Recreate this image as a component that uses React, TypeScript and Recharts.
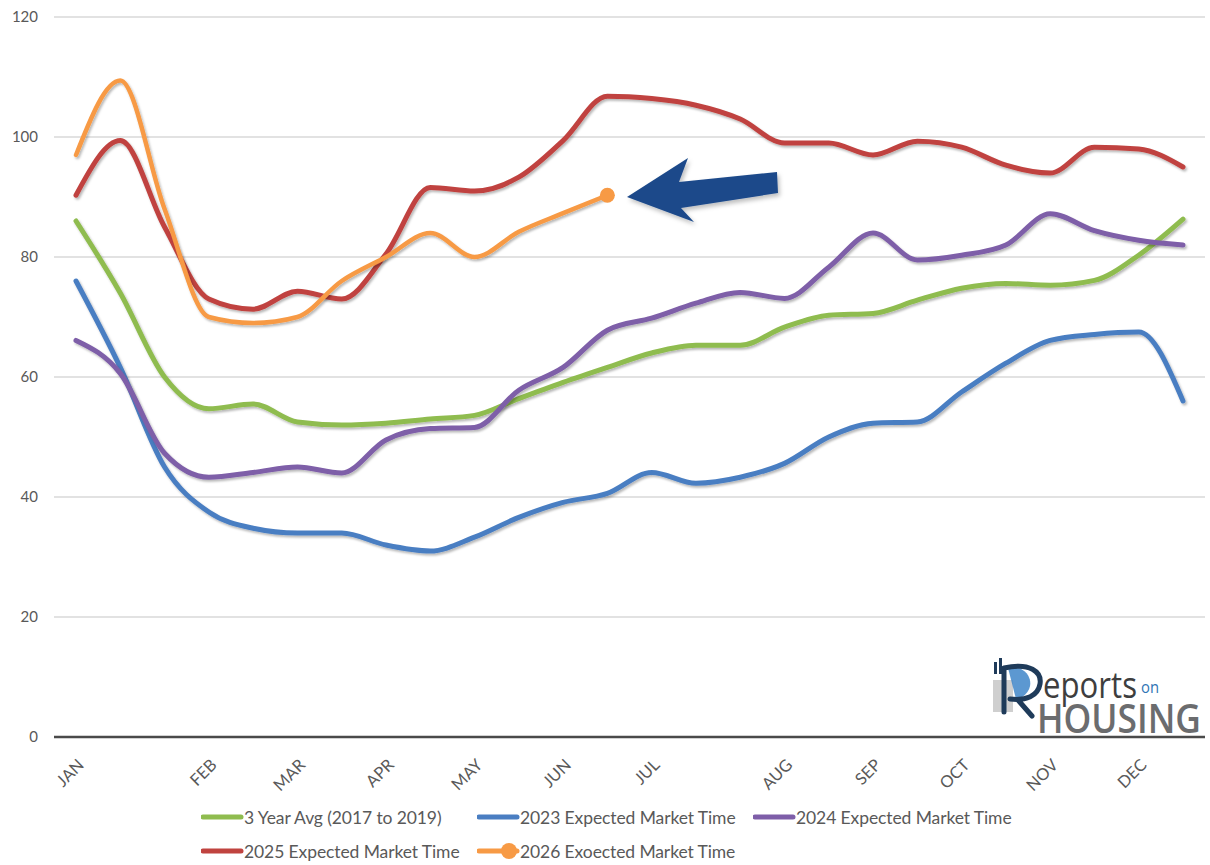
import { LineChart, Line, XAxis, YAxis, CartesianGrid } from 'recharts';

// 26 bi-weekly periods, month label on the period where each month starts
const tickLabels = ['JAN', '', '', 'FEB', '', 'MAR', '', 'APR', '', 'MAY', '', 'JUN', '', 'JUL', '', '', 'AUG', '', 'SEP', '', 'OCT', '', 'NOV', '', 'DEC', ''];
const yTicks = [0, 20, 40, 60, 80, 100, 120];

const avg3yr = [86, 74, 60, 54.7, 55.5, 52.5, 52, 52.3, 53, 53.6, 56.4, 59.1, 61.6, 64, 65.3, 65.3, 68.3, 70.3, 70.6, 72.8, 74.8, 75.6, 75.3, 76.1, 80.3, 86.3];
const market2023 = [76, 61.6, 45, 37.5, 34.8, 34, 34, 32, 31, 33.3, 36.6, 39.1, 40.6, 44.1, 42.3, 43.3, 45.6, 50, 52.3, 52.5, 57.5, 62.3, 66.1, 67.1, 67.5, 56];
const market2024 = [66.1, 60.6, 47.3, 43.3, 44.1, 45, 44, 49.5, 51.4, 51.6, 57.8, 61.6, 67.8, 69.8, 72.3, 74.1, 73.1, 78.3, 84, 79.5, 80.3, 82, 87.2, 84.4, 82.8, 82];
const market2025 = [90.3, 99.4, 85, 73, 71.3, 74.3, 73, 80.5, 91.6, 91, 93.3, 99.4, 106.8, 106.4, 105.3, 103, 99, 99, 97, 99.3, 98.3, 95.3, 94, 98.3, 98, 95];
const market2026 = [97, 109.4, 88, 70, 69, 70, 76, 80, 84, 80, 84.2, 87.3, 90.3];

const series = [
  { key: 'avg', name: '3 Year Avg (2017 to 2019)', color: '#8fbc4f' },
  { key: 'y2023', name: '2023 Expected Market Time', color: '#4a7ec2' },
  { key: 'y2024', name: '2024 Expected Market Time', color: '#7e5ea8' },
  { key: 'y2025', name: '2025 Expected Market Time', color: '#c0433f' },
  { key: 'y2026', name: '2026 Exoected Market Time', color: '#f79a45', dot: true },
];

const data = tickLabels.map((_, i) => ({
  idx: i,
  avg: avg3yr[i],
  y2023: market2023[i],
  y2024: market2024[i],
  y2025: market2025[i],
  y2026: market2026[i],
}));

const labelColor = '#595959';

const MonthTick = (props: any) => {
  const { x, y, payload } = props;
  const label = tickLabels[payload.value];
  if (!label) return null;
  return (
    <g transform={`translate(${x + 9},${y + 21})`}>
      <text textAnchor="end" transform="rotate(-45)" fill={labelColor} fontSize={16.5} fontFamily="Lato">
        {label}
      </text>
    </g>
  );
};

const lastDot = (color: string, lastIndex: number) => (props: any) => {
  const { cx, cy, index } = props;
  if (index !== lastIndex || cx == null) return <g key={index} />;
  return <circle key={index} cx={cx} cy={cy} r={7.5} fill={color} />;
};

function ChartLegend() {
  return (
    <div style={{ position: 'absolute', left: 201, top: 806, width: 840, display: 'flex', flexWrap: 'wrap', rowGap: 12 }}>
      {series.map((s) => (
        <div key={s.key} style={{ width: 276, height: 22, display: 'flex', alignItems: 'center' }}>
          <svg width={43} height={20}>
            <line x1={2} y1={10} x2={40} y2={10} stroke={s.color} strokeWidth={5} strokeLinecap="round" />
            {s.dot && <circle cx={32} cy={10} r={8} fill={s.color} />}
          </svg>
          <span style={{ fontSize: 17.5, color: labelColor, whiteSpace: 'nowrap', letterSpacing: -0.1 }}>{s.name}</span>
        </div>
      ))}
    </div>
  );
}

function Annotations() {
  return (
    <svg width={1210} height={865} style={{ position: 'absolute', left: 0, top: 0, pointerEvents: 'none' }}>
      <defs>
        <filter id="arrowShadow" x="-20%" y="-20%" width="140%" height="140%">
          <feDropShadow dx={2} dy={3} stdDeviation={2} floodColor="#000" floodOpacity={0.25} />
        </filter>
      </defs>
      <polygon
        points="627,197 688,158 679,182 777,172 778,193 681,208 694,222"
        fill="#1d4a8a"
        filter="url(#arrowShadow)"
      />
      {/* Reports on Housing logo */}
      <rect x={993} y={680} width={20} height={32} fill="#cfcfcf" />
      <rect x={994} y={662} width={3} height={12} fill="#1f3b5a" />
      <rect x={999} y={658} width={3} height={16} fill="#1f3b5a" />
      <path d="M1008,668 A17,16 0 1 1 1016,699" fill="#3f86c9" opacity={0.85} />
      <path d="M1004,668 L1004,712 M1004,668 C1030,662 1042,672 1040,684 C1038,696 1026,701 1010,699 M1018,700 L1032,716"
        fill="none" stroke="#1f3b5a" strokeWidth={5} strokeLinecap="round" />
      <text x={1043} y={698} fontSize={36} fontFamily="Open Sans" fill="#3e3e3e" textLength={94} lengthAdjust="spacingAndGlyphs">eports</text>
      <text x={1141} y={693} fontSize={17} fontFamily="Open Sans" fill="#2f75b5" textLength={18} lengthAdjust="spacingAndGlyphs">on</text>
      <text x={1037} y={733} fontSize={40} fontWeight={600} fontFamily="Open Sans" fill="#6b6c6e" textLength={164} lengthAdjust="spacingAndGlyphs">HOUSING</text>
    </svg>
  );
}

export default function App() {
  return (
    <div style={{ position: 'relative', width: 1210, height: 865, background: '#fff', fontFamily: 'Lato' }}>
      <style>{'body{margin:0}'}</style>
      <LineChart width={1210} height={865} data={data} margin={{ top: 17, right: 5, bottom: 98, left: 0 }}>
        <defs>
          <filter id="lineShadow" x="-5%" y="-5%" width="110%" height="110%">
            <feDropShadow dx={1.5} dy={2} stdDeviation={1.2} floodColor="#000" floodOpacity={0.28} />
          </filter>
        </defs>
        <CartesianGrid vertical={false} stroke="#d9d9d9" strokeWidth={1.5} />
        <XAxis
          dataKey="idx"
          type="category"
          interval={0}
          height={30}
          tick={<MonthTick />}
          tickLine={false}
          axisLine={{ stroke: '#4a4a4a', strokeWidth: 2.5 }}
          padding={{ left: 22, right: 22 }}
        />
        <YAxis
          domain={[0, 120]}
          ticks={yTicks}
          width={54}
          axisLine={false}
          tickLine={false}
          tickMargin={10}
          tick={{ fill: labelColor, fontSize: 15, fontFamily: 'Lato' }}
        />
        {series.map((s) => (
          <Line
            key={s.key}
            type="monotone"
            dataKey={s.key}
            name={s.name}
            stroke={s.color}
            strokeWidth={s.dot ? 4.5 : 5}
            strokeLinecap="round"
            filter="url(#lineShadow)"
            dot={s.dot ? lastDot(s.color, market2026.length - 1) : false}
            activeDot={false}
            isAnimationActive={false}
          />
        ))}
      </LineChart>
      <ChartLegend />
      <Annotations />
    </div>
  );
}
